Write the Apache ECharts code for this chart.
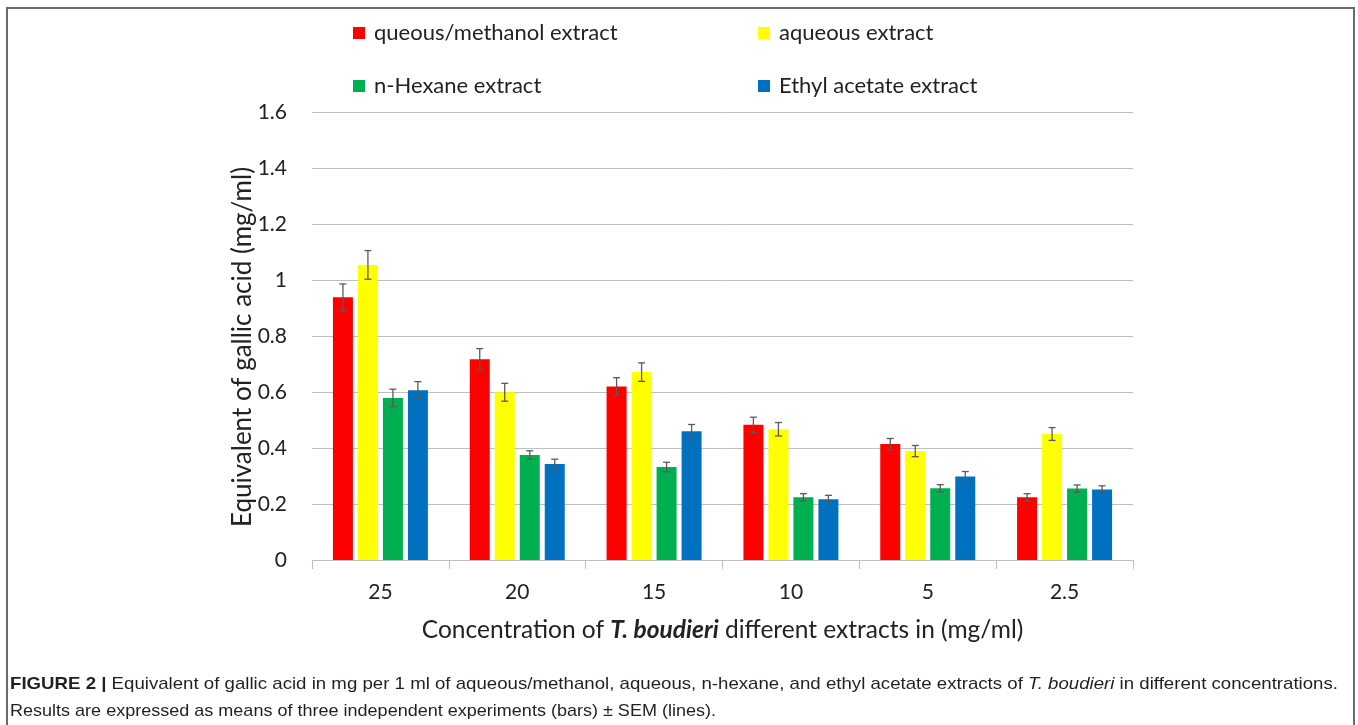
<!DOCTYPE html>
<html>
<head>
<meta charset="utf-8">
<script src="https://cdn.jsdelivr.net/npm/echarts@6/dist/echarts.min.js"></script>
<style>
html,body{margin:0;padding:0;background:#fff;}
#chart{width:1358px;height:725px;}
</style>
</head>
<body>
<div id="chart"></div>
<script>
const categories = ['25', '20', '15', '10', '5', '2.5'];
const seriesNames = ['queous/methanol extract', 'aqueous extract', 'n-Hexane extract', 'Ethyl acetate extract'];
const aqMethanol = [0.938, 0.717, 0.620, 0.483, 0.414, 0.224];
const aqueous = [1.054, 0.599, 0.671, 0.467, 0.389, 0.450];
const hexane = [0.579, 0.375, 0.332, 0.224, 0.256, 0.255];
const ethylAcetate = [0.606, 0.343, 0.460, 0.217, 0.298, 0.252];
const aqMethanolSem = [0.048, 0.038, 0.031, 0.027, 0.020, 0.013];
const aqueousSem = [0.051, 0.032, 0.033, 0.024, 0.020, 0.023];
const hexaneSem = [0.031, 0.015, 0.017, 0.013, 0.013, 0.013];
const ethylAcetateSem = [0.031, 0.017, 0.024, 0.014, 0.018, 0.013];
const yTicks = [0, 0.2, 0.4, 0.6, 0.8, 1, 1.2, 1.4, 1.6];

const colors = ['#ff0000', '#ffff00', '#00b050', '#0070c0'];
const values = [aqMethanol, aqueous, hexane, ethylAcetate];
const sems = [aqMethanolSem, aqueousSem, hexaneSem, ethylAcetateSem];

const BAR_W = 20, BAR_GAP = 5;
const FONT = 'Lato, "Open Sans", sans-serif';
const CAP_FONT = '"Liberation Sans", Arial, sans-serif';

const chart = echarts.init(document.getElementById('chart'), null, {renderer: 'canvas'});

const barSeries = seriesNames.map((n, i) => ({
  name: n,
  type: 'bar',
  data: values[i],
  barWidth: BAR_W,
  barGap: (BAR_GAP / BAR_W * 100) + '%',
  itemStyle: {color: colors[i]},
  emphasis: {disabled: true},
  z: 2
}));

const errSeries = seriesNames.map((n, i) => ({
  name: n + ' SEM',
  type: 'custom',
  data: values[i].map((v, k) => [k, v, sems[i][k]]),
  encode: {x: 0, y: 1},
  z: 5,
  silent: true,
  renderItem: function (params, api) {
    const k = api.value(0), v = api.value(1), e = api.value(2);
    const total = 4 * BAR_W + 3 * BAR_GAP;
    const off = -total / 2 + BAR_W / 2 + i * (BAR_W + BAR_GAP);
    const hi = api.coord([k, v + e]);
    const lo = api.coord([k, v - e]);
    const x = hi[0] + off;
    const cap = 3.5;
    const st = {stroke: '#5a5a5a', lineWidth: 1.3};
    return {
      type: 'group',
      children: [
        {type: 'line', shape: {x1: x, y1: hi[1], x2: x, y2: lo[1]}, style: st},
        {type: 'line', shape: {x1: x - cap, y1: hi[1], x2: x + cap, y2: hi[1]}, style: st},
        {type: 'line', shape: {x1: x - cap, y1: lo[1], x2: x + cap, y2: lo[1]}, style: st}
      ]
    };
  }
}));

const legendPos = [
  {left: 353, top: 21},
  {left: 758, top: 21},
  {left: 353, top: 74},
  {left: 758, top: 74}
];
const legends = seriesNames.map((n, i) => ({
  data: [n],
  left: legendPos[i].left,
  top: legendPos[i].top,
  orient: 'horizontal',
  itemWidth: 12,
  itemHeight: 12,
  itemGap: 0,
  padding: 0,
  icon: 'rect',
  selectedMode: false,
  textStyle: {fontFamily: FONT, fontSize: 22, color: '#222', padding: [0, 0, 0, 4], lineHeight: 24}
}));

const option = {
  animation: false,
  backgroundColor: '#fff',
  legend: legends,
  grid: {left: 312, right: 225, top: 112, bottom: 165, containLabel: false},
  xAxis: {
    type: 'category',
    data: categories,
    axisLine: {show: true, lineStyle: {color: '#bfbfbf', width: 1}},
    axisTick: {show: true, length: 9, lineStyle: {color: '#bfbfbf'}},
    axisLabel: {fontFamily: FONT, fontSize: 21, color: '#222', margin: 22},
    name: '{n|Concentration of }{b|T. boudieri}{n| different extracts in (mg/ml)}',
    nameLocation: 'middle',
    nameGap: 58,
    nameMoveOverlap: false,
    nameTextStyle: {
      rich: {
        n: {fontFamily: FONT, fontSize: 24.5, color: '#222'},
        b: {fontFamily: FONT, fontSize: 24.5, color: '#222', fontWeight: 'bold', fontStyle: 'italic'}
      }
    }
  },
  yAxis: {
    type: 'value',
    min: 0,
    max: 1.6,
    interval: 0.2,
    axisLine: {show: false},
    axisTick: {show: false},
    splitLine: {lineStyle: {color: '#bfbfbf', width: 1}},
    axisLabel: {
      fontFamily: FONT, fontSize: 21, color: '#222', margin: 25,
      formatter: function (v) { const t = yTicks.find(x => Math.abs(x - v) < 1e-9); return t === undefined ? '' : String(t); }
    },
    name: 'Equivalent of gallic acid (mg/ml)',
    nameLocation: 'middle',
    nameGap: 56,
    nameMoveOverlap: false,
    nameTextStyle: {fontFamily: FONT, fontSize: 26, color: '#222', padding: [0, 22, 0, 0]}
  },
  series: barSeries.concat(errSeries),
  graphic: [
    {
      type: 'rect',
      shape: {x: 7, y: 8, width: 1347, height: 760},
      style: {fill: 'none', stroke: '#6a6a6a', lineWidth: 2},
      silent: true, z: 0
    },
    {
      type: 'text',
      x: 10,
      y: 676,
      scaleX: 1.097,
      style: {
        text: '{b|FIGURE 2 |} Equivalent of gallic acid in mg per 1 ml of aqueous/methanol, aqueous, n-hexane, and ethyl acetate extracts of {i|T. boudieri} in different concentrations.',
        font: '17px ' + CAP_FONT,
        fill: '#231f20',
        rich: {
          b: {fontWeight: 'bold', fontSize: 17, fontFamily: CAP_FONT, fill: '#231f20'},
          i: {fontStyle: 'italic', fontSize: 17, fontFamily: CAP_FONT, fill: '#231f20'}
        }
      }
    },
    {
      type: 'text',
      x: 10,
      y: 703,
      scaleX: 1.06,
      style: {
        text: 'Results are expressed as means of three independent experiments (bars) \u00b1 SEM (lines).',
        font: '17px ' + CAP_FONT,
        fill: '#231f20'
      }
    }
  ]
};
chart.setOption(option);
</script>
</body>
</html>
